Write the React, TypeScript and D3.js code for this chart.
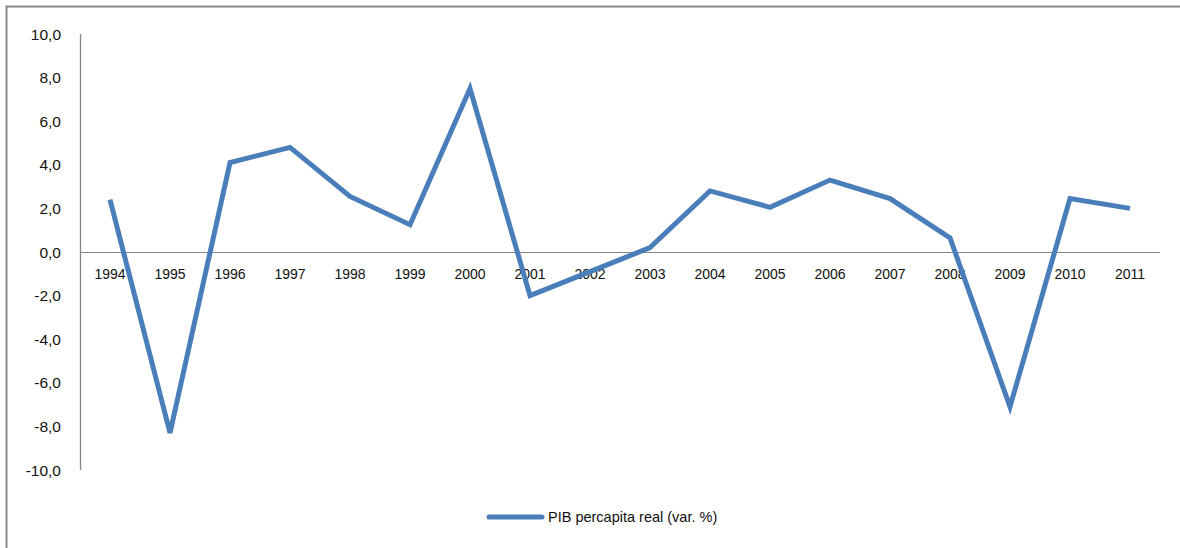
import React from "react";
import * as d3 from "d3";

const years = ["1994","1995","1996","1997","1998","1999","2000","2001","2002","2003","2004","2005","2006","2007","2008","2009","2010","2011"];
const pibPerCapita = [2.4,-8.3,4.1,4.8,2.55,1.25,7.5,-2.0,-0.9,0.2,2.8,2.05,3.3,2.45,0.65,-7.1,2.45,2.0];
const yTicks = [10,8,6,4,2,0,-2,-4,-6,-8,-10];
const seriesName = "PIB percapita real (var. %)";

const W = 1180;
const H = 548;
const LINE = "#4a7ebb";
const AXIS = "#868686";
const FONT = "'Liberation Sans', Arial, sans-serif";

export default function App() {
  const x = d3.scaleBand<string>().domain(years).range([80, 1160]);
  const y = d3.scaleLinear().domain([-10, 10]).range([470, 34]);
  const line = d3
    .line<number>()
    .x((_, i) => (x(years[i]) as number) + x.bandwidth() / 2)
    .y((d) => y(d));
  const fmt = (v: number) => v.toFixed(1).replace(".", ",");

  return (
    <svg
      width={W}
      height={H}
      style={{ position: "absolute", left: 0, top: 0, background: "#fff" }}
      fontFamily={FONT}
    >
      {/* chart frame */}
      <rect x={6.5} y={6.5} width={W + 10} height={H + 10} fill="none" stroke="#8a8a8a" strokeWidth={2} />

      {/* vertical axis */}
      <line x1={80.5} x2={80.5} y1={y(10)} y2={y(-10)} stroke={AXIS} strokeWidth={1.3} />
      {yTicks.map((t) => (
        <text key={t} x={61} y={y(t)} dy="0.36em" textAnchor="end" fontSize={15.5} fill="#111">
          {fmt(t)}
        </text>
      ))}

      {/* category axis at zero */}
      <line x1={80} x2={1160} y1={y(0) + 0.5} y2={y(0) + 0.5} stroke={AXIS} strokeWidth={1} />
      {years.map((yr) => (
        <text
          key={yr}
          x={(x(yr) as number) + x.bandwidth() / 2}
          y={y(0) + 22}
          dy="0.36em"
          textAnchor="middle"
          fontSize={14}
          fill="#111"
        >
          {yr}
        </text>
      ))}

      {/* series */}
      <path d={line(pibPerCapita) || ""} fill="none" stroke={LINE} strokeWidth={5} strokeLinejoin="miter" />

      {/* legend */}
      <line x1={489} x2={542} y1={517} y2={517} stroke={LINE} strokeWidth={5} strokeLinecap="round" />
      <text x={548} y={517} dy="0.36em" fontSize={14.5} fill="#111">
        {seriesName}
      </text>
    </svg>
  );
}
